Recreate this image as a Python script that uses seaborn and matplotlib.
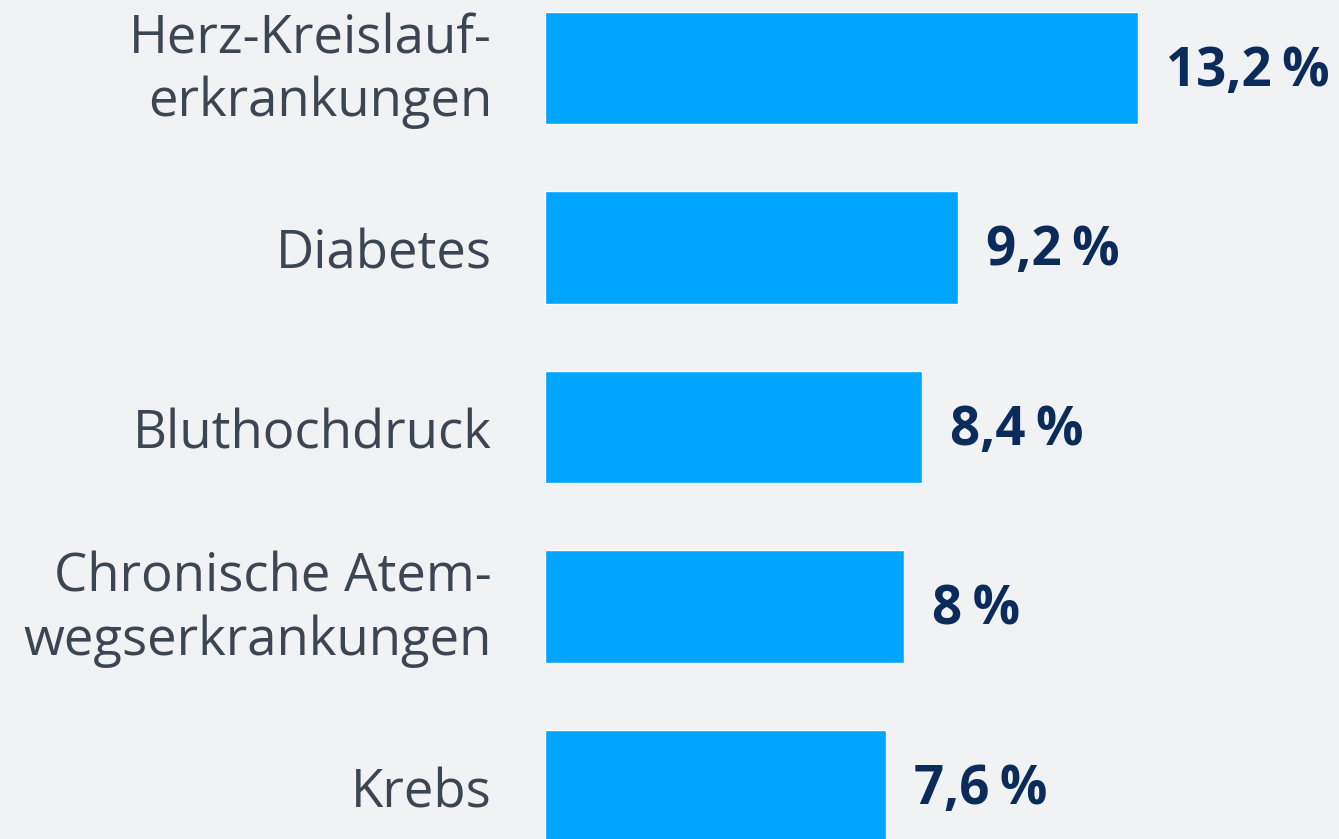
import matplotlib
matplotlib.use("Agg")
import matplotlib.pyplot as plt
import seaborn as sns
import pandas as pd

categories = ["Herz-Kreislauf-\nerkrankungen", "Diabetes", "Bluthochdruck",
              "Chronische Atem-\nwegserkrankungen", "Krebs"]
values = [13.2, 9.2, 8.4, 8.0, 7.6]
value_labels = ["13,2\u2009%", "9,2\u2009%", "8,4\u2009%", "8\u2009%", "7,6\u2009%"]

BG = "#f1f2f4"
BAR = "#00a5ff"
LABEL = "#3c4652"
VALUE = "#0b2c5a"

sns.set_theme(style="white")
plt.rcParams["font.family"] = ["Open Sans", "DejaVu Sans"]

df = pd.DataFrame({"cat": categories, "val": values})

fig = plt.figure(figsize=(13.39, 8.39), dpi=100)
fig.patch.set_facecolor(BG)
ax = fig.add_axes([0, 0, 1, 1])
ax.set_facecolor(BG)

sns.barplot(data=df, x="val", y="cat", orient="h", color=BAR, width=0.624,
            saturation=1, ax=ax)

px = 44.9
py = 179.5
ax.set_xlim(-545 / px, (1339 - 545) / px)
ax.set_ylim((839 - 68) / py, -68 / py)
ax.axis("off")

label_x = -(545 - 492) / px
for i, (c, v, vl) in enumerate(zip(categories, values, value_labels)):
    lines = c.split("\n")
    if len(lines) == 1:
        offsets = [21]
    else:
        offsets = [-15, 48]
    for line, off in zip(lines, offsets):
        ax.text(label_x, i + off / py, line, ha="right", va="baseline",
                fontsize=38, color=LABEL)
    ax.text(v + 28 / px, i + 18 / py, vl, ha="left", va="baseline",
            fontsize=38, color=VALUE, fontweight="bold")

fig.savefig("out.png", dpi=100, facecolor=BG)
